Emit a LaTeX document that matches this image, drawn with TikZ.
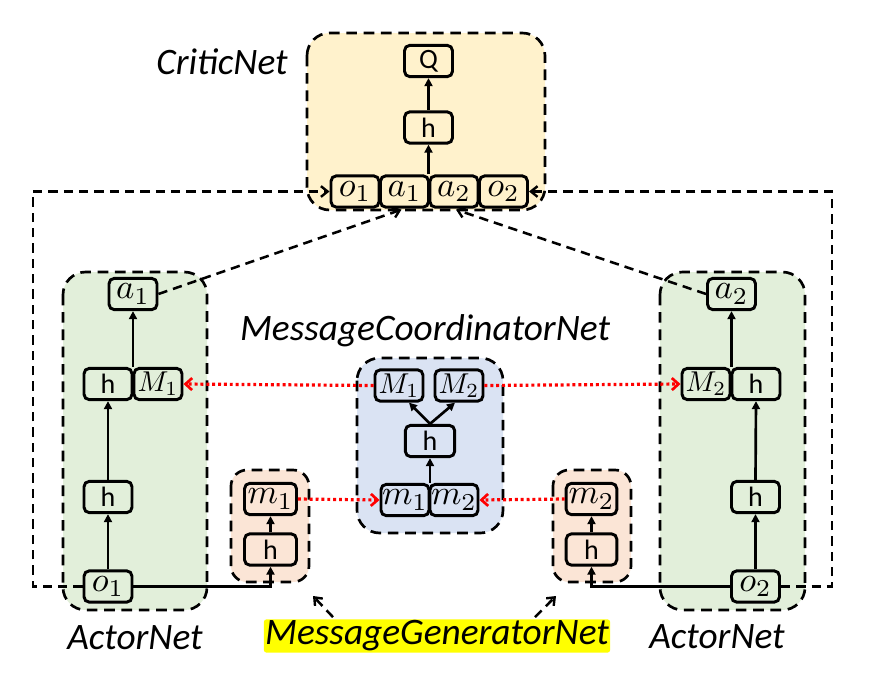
\documentclass[tikz,border=0pt]{standalone}
\usepackage{graphicx}
\usepackage{fontspec}
\setmainfont{Carlito}
\usetikzlibrary{arrows.meta,calc}
\definecolor{critfill}{HTML}{FFF2CC}
\definecolor{actfill}{HTML}{E2EFDA}
\definecolor{genfill}{HTML}{FBE5D6}
\definecolor{coordfill}{HTML}{DAE3F3}
\definecolor{hilite}{HTML}{FFFF00}
\definecolor{reddot}{HTML}{FF0000}
\newcommand\mvar[1]{\scalebox{2.6}{\fontsize{10}{10}\selectfont$#1$}}
\newcommand\mcap[1]{\scalebox{2.15}{\fontsize{10}{10}\selectfont$#1$}}
\tikzset{
  unit/.style={draw, line width=2.2pt, rounded corners=4pt, minimum width=36pt, minimum height=23.5pt, inner sep=0pt, font=\fontsize{21}{21}\selectfont},
  grp/.style={draw, line width=2pt, dash pattern=on 8pt off 5pt, rounded corners=17pt},
  solidarrow/.style={line width=2pt, -{Triangle[length=6pt,width=6pt]}},
  dasharrow/.style={line width=1.9pt, dash pattern=on 7pt off 4.5pt, -{Straight Barb[length=5pt,width=8pt,line width=1.8pt]}},
  redarrow/.style={draw=reddot, line width=2.4pt, dash pattern=on 2.2pt off 2.2pt, -{Straight Barb[length=5pt,width=9pt,line width=2pt]}},
  netlabel/.style={font=\fontsize{28}{28}\selectfont\itshape, inner sep=1pt},
}
\begin{document}
\begin{tikzpicture}[x=0.75pt,y=-0.75pt]
\useasboundingbox (0,0) rectangle (872,679);
% containers
\draw[grp, fill=critfill] (307,33) rectangle (545,210);
\draw[grp, fill=actfill] (63,272) rectangle (207,610);
\draw[grp, fill=actfill] (660,272) rectangle (805,610);
\draw[grp, fill=genfill, rounded corners=12pt] (231,470) rectangle (309,582);
\draw[grp, fill=genfill, rounded corners=12pt] (553,470) rectangle (631,582);
\draw[grp, fill=coordfill] (357,358) rectangle (503,533);
% critic units
\node[unit] (Q) at (428.5,61) {Q};
\node[unit] (crh) at (428.5,127.5) {h};
\node[unit] (co1) at (355,191.5) {\mvar{o_1}};
\node[unit] (ca1) at (404.5,191.5) {\mvar{a_1}};
\node[unit] (ca2) at (454,191.5) {\mvar{a_2}};
\node[unit] (co2) at (503.5,191.5) {\mvar{o_2}};
% left actor
\node[unit] (la1) at (133,294) {\mvar{a_1}};
\node[unit] (lh2) at (108,384) {h};
\node[unit] (lM1) at (158,384) {\mcap{M_1}};
\node[unit] (lh1) at (108,497) {h};
\node[unit] (lo1) at (108,586.5) {\mvar{o_1}};
% right actor
\node[unit] (ra2) at (731.5,294) {\mvar{a_2}};
\node[unit] (rM2) at (706,384) {\mcap{M_2}};
\node[unit] (rh2) at (756,384) {h};
\node[unit] (rh1) at (755.5,497) {h};
\node[unit] (ro2) at (755.5,586.5) {\mvar{o_2}};
% generators
\node[unit, minimum width=39pt] (gm1) at (270.5,499) {\mvar{m_1}};
\node[unit, minimum width=39pt] (gh1) at (270.5,549.5) {h};
\node[unit, minimum width=38pt] (gm2) at (591.5,499) {\mvar{m_2}};
\node[unit, minimum width=38pt] (gh2) at (591.5,549.5) {h};
% coordinator
\node[unit] (cM1) at (399,385.5) {\mcap{M_1}};
\node[unit] (cM2) at (459,385.5) {\mcap{M_2}};
\node[unit, minimum width=37pt] (cch) at (430,441) {h};
\node[unit] (cm1) at (405,500) {\mvar{m_1}};
\node[unit] (cm2) at (454,500) {\mvar{m_2}};
% labels
\node[netlabel] (lcrit) at (222,62) {CriticNet};
\node[netlabel] (lcoord) at (425,331) {MessageCoordinatorNet};
\node[netlabel] (lact1) at (135,638) {ActorNet};
\node[netlabel] (lact2) at (717,637) {ActorNet};
\node[netlabel, fill=hilite, rounded corners=2pt] (lgen) at (437,636) {MessageGeneratorNet};
% solid arrows
\draw[solidarrow] (crh.south |- ca1.north) -- (crh.south);
\draw[solidarrow] (crh.north) -- (Q.south);
\draw[solidarrow] (lo1.north) -- (lh1.south);
\draw[solidarrow] (lh1.north) -- (lh2.south);
\draw[solidarrow] (la1.south |- lh2.north) -- (la1.south);
\draw[solidarrow] (ro2.north) -- (rh1.south);
\draw[solidarrow] (rh1.north) -- (rh2.south);
\draw[solidarrow] (ra2.south |- rM2.north) -- (ra2.south);
\draw[solidarrow] (gh1.north) -- (gm1.south);
\draw[solidarrow] (gh2.north) -- (gm2.south);
\draw[solidarrow] (lo1.east) -| (gh1.south);
\draw[solidarrow] (ro2.west) -| (gh2.south);
\draw[solidarrow] (cch.south |- cm1.north) -- (cch.south);
\draw[solidarrow] (cch.north) -- ($(cM1.south)+(10,0)$);
\draw[solidarrow] (cch.north) -- ($(cM2.south)+(-4,0)$);
% dashed arrows
\coordinate (Lc) at (33,191.5);
\coordinate (Rc) at (832,191.5);
\draw[dasharrow] (lo1.west) -| (Lc) -- (co1.west);
\draw[dasharrow] (ro2.east) -| (Rc) -- (co2.east);
\draw[dasharrow] (la1.east) -- ($(ca1.south)+(-3,1)$);
\draw[dasharrow] (ra2.west) -- ($(ca2.south)+(2,1)$);
\coordinate (g1tip) at (313,596);
\coordinate (g2tip) at (556,596);
\draw[dasharrow] ($(lgen.north)+(-104,-2)$) -- (g1tip);
\draw[dasharrow] ($(lgen.north)+(98,-2)$) -- (g2tip);
% red dotted arrows
\draw[redarrow] (cM1.west) -- (lM1.east);
\draw[redarrow] (cM2.east) -- (rM2.west);
\draw[redarrow] (gm1.east) -- (cm1.west);
\draw[redarrow] (gm2.west) -- (cm2.east);
\end{tikzpicture}
\end{document}
